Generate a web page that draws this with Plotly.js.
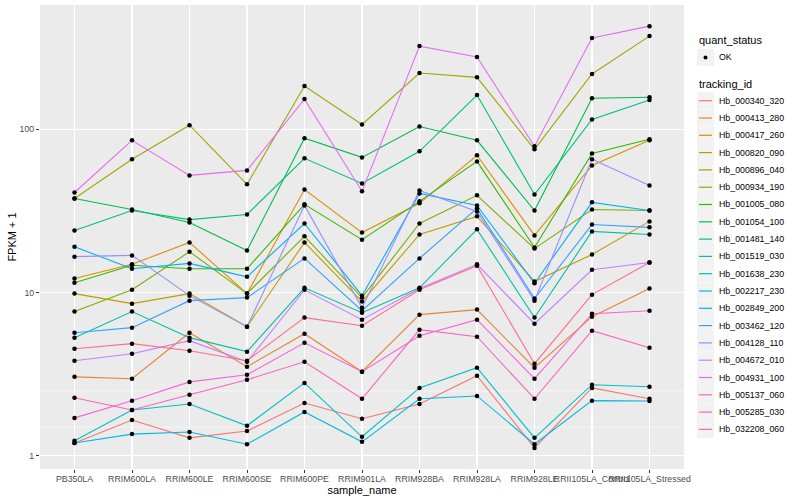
<!DOCTYPE html>
<html>
<head>
<meta charset="utf-8">
<script src="https://cdn.plot.ly/plotly-3.0.1.min.js"></script>
<style>html,body{margin:0;padding:0;background:#fff;}#chart{width:800px;height:500px;}</style>
</head>
<body>
<div id="chart"></div>
<script>
// categories (x)
const samples = ['PB350LA','RRIM600LA','RRIM600LE','RRIM600SE','RRIM600PE','RRIM901LA','RRIM928BA','RRIM928LA','RRIM928LE','RRII105LA_Control','RRII105LA_Stressed'];

// FPKM + 1 per tracking_id, in sample order
const Hb_000340_320 = [1.20, 1.66, 1.29, 1.42, 2.11, 1.69, 2.08, 3.10, 1.12, 2.61, 2.24];
const Hb_000413_280 = [3.05, 2.97, 5.68, 3.52, 5.60, 3.28, 7.33, 7.87, 3.47, 7.12, 10.6];
const Hb_000417_260 = [12.2, 14.9, 20.3, 9.86, 42.8, 23.3, 35.2, 69.3, 22.4, 60.1, 85.6];
const Hb_000820_090 = [9.86, 8.56, 9.86, 6.19, 20.3, 8.81, 22.7, 29.3, 11.7, 17.1, 27.3];
const Hb_000896_040 = [37.7, 65.5, 106, 46.0, 184, 107, 221, 208, 75.4, 218, 372];
const Hb_000934_190 = [7.65, 10.4, 17.8, 9.86, 22.1, 9.32, 26.5, 39.4, 18.6, 32.3, 31.8];
const Hb_001005_080 = [11.5, 14.7, 14.0, 14.0, 34.7, 21.1, 36.2, 63.6, 18.9, 71.2, 86.8];
const Hb_001054_100 = [37.7, 32.3, 26.9, 18.1, 88.1, 67.3, 104, 85.6, 31.8, 155, 157];
const Hb_001481_140 = [24.0, 31.8, 28.0, 30.1, 66.4, 46.6, 73.3, 162, 39.9, 115, 151];
const Hb_001519_030 = [5.30, 7.65, 5.30, 4.35, 10.7, 7.54, 10.7, 24.4, 7.03, 23.7, 22.7];
const Hb_001638_230 = [1.24, 1.91, 2.08, 1.53, 2.80, 1.31, 2.61, 3.47, 1.29, 2.73, 2.65];
const Hb_002217_230 = [1.20, 1.36, 1.40, 1.18, 1.86, 1.22, 2.24, 2.33, 1.18, 2.18, 2.17];
const Hb_002849_200 = [19.1, 14.0, 15.1, 12.5, 26.5, 9.58, 40.5, 34.2, 11.4, 35.7, 31.8];
const Hb_003462_120 = [5.68, 6.10, 8.93, 9.32, 16.2, 7.75, 16.2, 32.8, 9.19, 26.1, 25.1];
const Hb_004128_110 = [16.6, 16.9, 9.58, 6.19, 34.2, 8.09, 42.2, 31.4, 8.93, 65.5, 45.3];
const Hb_004672_010 = [3.83, 4.22, 5.08, 3.77, 10.4, 6.83, 10.6, 14.9, 6.45, 13.8, 15.3];
const Hb_004931_100 = [41.0, 85.6, 52.2, 56.0, 153, 41.7, 323, 277, 78.7, 362, 428];
const Hb_005137_060 = [1.71, 2.18, 2.84, 3.14, 4.93, 3.28, 5.45, 6.83, 2.97, 7.43, 7.75];
const Hb_005285_030 = [2.27, 1.91, 2.37, 2.93, 3.77, 2.24, 5.93, 5.37, 2.24, 5.85, 4.60];
const Hb_032208_060 = [4.53, 4.87, 4.41, 3.83, 7.03, 6.27, 10.4, 14.6, 3.67, 9.72, 15.3];

const trackingIds = ['Hb_000340_320','Hb_000413_280','Hb_000417_260','Hb_000820_090','Hb_000896_040','Hb_000934_190','Hb_001005_080','Hb_001054_100','Hb_001481_140','Hb_001519_030','Hb_001638_230','Hb_002217_230','Hb_002849_200','Hb_003462_120','Hb_004128_110','Hb_004672_010','Hb_004931_100','Hb_005137_060','Hb_005285_030','Hb_032208_060'];
const seriesValues = [Hb_000340_320, Hb_000413_280, Hb_000417_260, Hb_000820_090, Hb_000896_040, Hb_000934_190, Hb_001005_080, Hb_001054_100, Hb_001481_140, Hb_001519_030, Hb_001638_230, Hb_002217_230, Hb_002849_200, Hb_003462_120, Hb_004128_110, Hb_004672_010, Hb_004931_100, Hb_005137_060, Hb_005285_030, Hb_032208_060];
const colors = ['#F8766D','#EA8331','#D89000','#C09B00','#A3A500','#7CAE00','#39B600','#00BB4E','#00BF7D','#00C1A3','#00BFC4','#00BAE0','#00B0F6','#35A2FF','#9590FF','#C77CFF','#E76BF3','#FA62DB','#FF62BC','#FF6C90'];

const yTickVals = [1, 10, 100];
const yTickText = ['1', '10', '100'];
const yMinorVals = [Math.sqrt(10), Math.sqrt(1000), Math.sqrt(100000)];

const FONT = 'Liberation Sans, Arial, Helvetica, sans-serif';

// plot area geometry (px)
const W = 800, H = 500, L = 40, R = 116, T = 5, B = 31;
const pw = W - L - R, ph = H - T - B;
const xp = px => (px - L) / pw;
const yp = py => (H - B - py) / ph;

const traces = [];
trackingIds.forEach((id, i) => {
  traces.push({
    type: 'scatter', mode: 'lines', name: id,
    x: samples, y: seriesValues[i],
    line: {color: colors[i], width: 1.1},
    showlegend: false, hoverinfo: 'x+y+name'
  });
});
// points (quant_status = OK) drawn above all lines
const allX = [], allY = [];
seriesValues.forEach(vals => vals.forEach((v, j) => { allX.push(samples[j]); allY.push(v); }));
traces.push({
  type: 'scatter', mode: 'markers', name: 'OK',
  x: allX, y: allY,
  marker: {color: '#000000', size: 4.5},
  showlegend: false
});

const shapes = [];
const annotations = [];
// minor horizontal gridlines (log units)
yMinorVals.forEach(v => {
  shapes.push({type: 'line', xref: 'paper', yref: 'y', x0: 0, x1: 1,
    y0: Math.log10(v), y1: Math.log10(v), line: {color: '#FFFFFF', width: 0.55}, layer: 'below'});
});

// manual ggplot-style legends
const lx = 697;
annotations.push({xref: 'paper', yref: 'paper', x: xp(lx), y: yp(40), xanchor: 'left', yanchor: 'middle',
  text: 'quant_status', showarrow: false, font: {family: FONT, size: 11, color: '#000'}});
shapes.push({type: 'rect', xref: 'paper', yref: 'paper', x0: xp(lx), x1: xp(lx + 17), y0: yp(49), y1: yp(66),
  fillcolor: '#F2F2F2', line: {width: 0}});
shapes.push({type: 'circle', xref: 'paper', yref: 'paper', x0: xp(lx + 6.5), x1: xp(lx + 10.5), y0: yp(55.5), y1: yp(59.5),
  fillcolor: '#000', line: {width: 0}});
annotations.push({xref: 'paper', yref: 'paper', x: xp(lx + 20), y: yp(57.5), xanchor: 'left', yanchor: 'middle',
  text: 'OK', showarrow: false, font: {family: FONT, size: 8.8, color: '#000'}});

annotations.push({xref: 'paper', yref: 'paper', x: xp(lx), y: yp(84), xanchor: 'left', yanchor: 'middle',
  text: 'tracking_id', showarrow: false, font: {family: FONT, size: 11, color: '#000'}});
trackingIds.forEach((id, i) => {
  const cy = 100.7 + 17.3 * i;
  shapes.push({type: 'rect', xref: 'paper', yref: 'paper', x0: xp(lx), x1: xp(lx + 17), y0: yp(cy - 8.5), y1: yp(cy + 8.5),
    fillcolor: '#F2F2F2', line: {width: 0}});
  shapes.push({type: 'line', xref: 'paper', yref: 'paper', x0: xp(lx + 2), x1: xp(lx + 15), y0: yp(cy), y1: yp(cy),
    line: {color: colors[i], width: 1.2}});
  annotations.push({xref: 'paper', yref: 'paper', x: xp(lx + 20), y: yp(cy), xanchor: 'left', yanchor: 'middle',
    text: id, showarrow: false, font: {family: FONT, size: 8.8, color: '#000'}});
});

const layout = {
  width: W, height: H,
  margin: {l: L, r: R, t: T, b: B, pad: 0},
  paper_bgcolor: '#FFFFFF',
  plot_bgcolor: '#EBEBEB',
  showlegend: false,
  font: {family: FONT, size: 11, color: '#000'},
  xaxis: {
    type: 'category', categoryorder: 'array', categoryarray: samples,
    range: [-0.6, samples.length - 0.4],
    showgrid: true, gridcolor: '#FFFFFF', gridwidth: 1.1,
    zeroline: false, showline: false,
    ticks: 'outside', ticklen: 3, tickwidth: 1, tickcolor: '#333333',
    tickangle: 0, automargin: false, ticklabelstandoff: -2,
    tickfont: {family: FONT, size: 8.8, color: '#4D4D4D'},
    title: {text: 'sample_name', font: {family: FONT, size: 11, color: '#000'}, standoff: 0}
  },
  yaxis: {
    type: 'log', range: [-0.08, 2.761],
    tickmode: 'array', tickvals: yTickVals, ticktext: yTickText,
    showgrid: true, gridcolor: '#FFFFFF', gridwidth: 1.1,
    zeroline: false, showline: false,
    ticks: 'outside', ticklen: 3, tickwidth: 1, tickcolor: '#333333',
    automargin: false,
    tickfont: {family: FONT, size: 8.8, color: '#4D4D4D'},
    title: {text: 'FPKM + 1', font: {family: FONT, size: 11, color: '#000'}, standoff: 0}
  },
  shapes: shapes,
  annotations: annotations
};

Plotly.newPlot('chart', traces, layout, {displayModeBar: false, staticPlot: true});
</script>
</body>
</html>
